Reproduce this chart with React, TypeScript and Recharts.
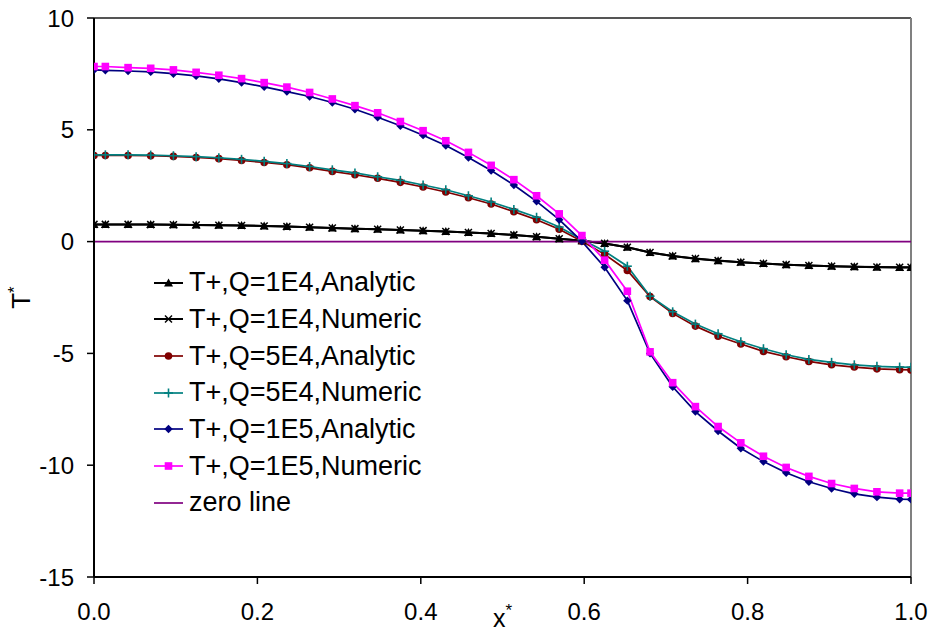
import React from 'react';
import { LineChart, Line, XAxis, YAxis, ReferenceLine, Legend } from 'recharts';

const xStar = [0, 0.0139, 0.0417, 0.0694, 0.0972, 0.125, 0.1528, 0.1806, 0.2083, 0.2361, 0.2639, 0.2917, 0.3194, 0.3472, 0.375, 0.4028, 0.4306, 0.4583, 0.4861, 0.5139, 0.5417, 0.5694, 0.5972, 0.625, 0.6528, 0.6806, 0.7083, 0.7361, 0.7639, 0.7917, 0.8194, 0.8472, 0.875, 0.9028, 0.9306, 0.9583, 0.9861, 1];

const q1e4Analytic = [0.76, 0.76, 0.76, 0.76, 0.75, 0.74, 0.73, 0.72, 0.70, 0.67, 0.64, 0.61, 0.58, 0.55, 0.52, 0.49, 0.45, 0.41, 0.36, 0.30, 0.22, 0.13, 0.04, -0.08, -0.25, -0.49, -0.64, -0.77, -0.86, -0.92, -0.98, -1.03, -1.07, -1.10, -1.13, -1.15, -1.16, -1.16];
const q1e4Numeric = [0.77, 0.77, 0.77, 0.76, 0.75, 0.74, 0.73, 0.72, 0.70, 0.67, 0.64, 0.61, 0.58, 0.55, 0.52, 0.49, 0.45, 0.41, 0.36, 0.30, 0.22, 0.13, 0.04, -0.08, -0.25, -0.49, -0.64, -0.76, -0.85, -0.92, -0.98, -1.03, -1.07, -1.10, -1.12, -1.14, -1.15, -1.15];
const q5e4Analytic = [3.85, 3.85, 3.85, 3.84, 3.81, 3.76, 3.71, 3.63, 3.54, 3.44, 3.30, 3.14, 2.99, 2.83, 2.65, 2.44, 2.22, 1.96, 1.68, 1.34, 0.98, 0.55, 0.02, -0.57, -1.29, -2.46, -3.21, -3.78, -4.23, -4.58, -4.91, -5.15, -5.36, -5.51, -5.61, -5.69, -5.73, -5.74];
const q5e4Numeric = [3.88, 3.88, 3.88, 3.87, 3.84, 3.80, 3.75, 3.68, 3.59, 3.49, 3.36, 3.21, 3.07, 2.90, 2.74, 2.53, 2.32, 2.05, 1.77, 1.44, 1.09, 0.65, 0.09, -0.43, -1.10, -2.44, -3.14, -3.69, -4.12, -4.48, -4.79, -5.06, -5.27, -5.40, -5.51, -5.58, -5.61, -5.62];
const q1e5Analytic = [7.68, 7.66, 7.63, 7.59, 7.51, 7.41, 7.28, 7.11, 6.92, 6.71, 6.49, 6.22, 5.92, 5.56, 5.18, 4.76, 4.30, 3.76, 3.18, 2.53, 1.80, 0.98, 0.01, -1.15, -2.64, -5.00, -6.49, -7.60, -8.47, -9.24, -9.84, -10.34, -10.74, -11.04, -11.28, -11.43, -11.52, -11.53];
const q1e5Numeric = [7.83, 7.83, 7.78, 7.75, 7.68, 7.57, 7.44, 7.29, 7.11, 6.91, 6.67, 6.38, 6.08, 5.76, 5.37, 4.96, 4.51, 3.99, 3.41, 2.77, 2.05, 1.24, 0.27, -0.83, -2.22, -4.93, -6.31, -7.38, -8.27, -9.00, -9.60, -10.10, -10.50, -10.82, -11.04, -11.19, -11.25, -11.25];

const zeroLineX = [0, 1];
const zeroLineY = [0, 0];

const xTicks = [0, 0.2, 0.4, 0.6, 0.8, 1.0];
const yTicks = [-15, -10, -5, 0, 5, 10];

const seriesNames = [
  'T+,Q=1E4,Analytic',
  'T+,Q=1E4,Numeric',
  'T+,Q=5E4,Analytic',
  'T+,Q=5E4,Numeric',
  'T+,Q=1E5,Analytic',
  'T+,Q=1E5,Numeric',
  'zero line',
];

const rows = xStar.map((x, i) => ({
  x,
  a1: q1e4Analytic[i],
  n1: q1e4Numeric[i],
  a5: q5e4Analytic[i],
  n5: q5e4Numeric[i],
  a10: q1e5Analytic[i],
  n10: q1e5Numeric[i],
}));

const zeroRows = zeroLineX.map((x, i) => ({ x, zero: zeroLineY[i] }));

type Shape = 'triangle' | 'cross' | 'circle' | 'plus' | 'diamond' | 'square' | 'none';

const series: { key: string; name: string; color: string; shape: Shape; width: number }[] = [
  { key: 'a1', name: seriesNames[0], color: '#000000', shape: 'triangle', width: 2 },
  { key: 'n1', name: seriesNames[1], color: '#000000', shape: 'cross', width: 2 },
  { key: 'a5', name: seriesNames[2], color: '#800000', shape: 'circle', width: 1.7 },
  { key: 'n5', name: seriesNames[3], color: '#008080', shape: 'plus', width: 1.7 },
  { key: 'a10', name: seriesNames[4], color: '#000080', shape: 'diamond', width: 1.7 },
  { key: 'n10', name: seriesNames[5], color: '#FF00FF', shape: 'square', width: 1.7 },
];

const zeroColor = '#800080';

function Marker({ shape, cx, cy, color }: { shape: Shape; cx: number; cy: number; color: string }) {
  if (cx == null || cy == null || isNaN(cx) || isNaN(cy)) return null;
  switch (shape) {
    case 'triangle':
      return <polygon points={`${cx},${cy - 4.5} ${cx - 4.5},${cy + 3.5} ${cx + 4.5},${cy + 3.5}`} fill={color} />;
    case 'cross':
      return (
        <g stroke={color} strokeWidth={1.5}>
          <line x1={cx - 3.5} y1={cy - 3.5} x2={cx + 3.5} y2={cy + 3.5} />
          <line x1={cx - 3.5} y1={cy + 3.5} x2={cx + 3.5} y2={cy - 3.5} />
        </g>
      );
    case 'circle':
      return <circle cx={cx} cy={cy} r={3.8} fill={color} />;
    case 'plus':
      return (
        <g stroke={color} strokeWidth={1.6}>
          <line x1={cx - 4.5} y1={cy} x2={cx + 4.5} y2={cy} />
          <line x1={cx} y1={cy - 4.5} x2={cx} y2={cy + 4.5} />
        </g>
      );
    case 'diamond':
      return <polygon points={`${cx},${cy - 4.2} ${cx + 4.2},${cy} ${cx},${cy + 4.2} ${cx - 4.2},${cy}`} fill={color} />;
    case 'square':
      return <rect x={cx - 3.8} y={cy - 3.8} width={7.6} height={7.6} fill={color} />;
    default:
      return null;
  }
}

const FONT = '"Liberation Sans", Arial, Helvetica, sans-serif';

function LegendBox() {
  const items = [
    ...series.map((s) => ({ name: s.name, color: s.color, shape: s.shape, width: s.width })),
    { name: seriesNames[6], color: zeroColor, shape: 'none' as Shape, width: 1.7 },
  ];
  return (
    <div style={{ fontFamily: FONT }}>
      {items.map((it) => (
        <div key={it.name} style={{ height: 36.67, display: 'flex', alignItems: 'center' }}>
          <svg width={46} height={20} style={{ flex: 'none' }}>
            <line x1={14} y1={10} x2={43} y2={10} stroke={it.color} strokeWidth={it.width} />
            <Marker shape={it.shape} cx={28.5} cy={10} color={it.color} />
          </svg>
          <span style={{ marginLeft: 3, fontSize: 27, lineHeight: 1, color: '#000', whiteSpace: 'nowrap' }}>{it.name}</span>
        </div>
      ))}
    </div>
  );
}

const YLabel = (props: any) => {
  const vb = props.viewBox || {};
  const cy = (vb.y ?? 18) + (vb.height ?? 559) / 2;
  const x = 30;
  return (
    <text x={x} y={cy} transform={`rotate(-90, ${x}, ${cy})`} textAnchor="middle" fontSize={26} fontFamily={FONT} fill="#000">
      T<tspan fontSize={17} dy={-10}>*</tspan>
    </text>
  );
};

const XLabel = (props: any) => {
  const vb = props.viewBox || {};
  const cx = (vb.x ?? 94) + (vb.width ?? 817) / 2;
  return (
    <text x={cx} y={627} textAnchor="middle" fontSize={25} fontFamily={FONT} fill="#000">
      x<tspan fontSize={17} dy={-11}>*</tspan>
    </text>
  );
};

export default function App() {
  return (
    <div style={{ position: 'absolute', left: 0, top: 0, width: 930, height: 632, background: '#fff', fontFamily: FONT }}>
      <LineChart width={930} height={632} data={rows} margin={{ top: 18, right: 19, left: 0, bottom: 0 }}>
        <XAxis
          dataKey="x"
          type="number"
          domain={[0, 1]}
          ticks={xTicks}
          tickFormatter={(v: number) => v.toFixed(1)}
          height={55}
          tickSize={7}
          tickMargin={19}
          axisLine={{ stroke: '#000', strokeWidth: 2 }}
          tickLine={{ stroke: '#000', strokeWidth: 1.5 }}
          tick={{ fill: '#000', fontSize: 24, fontFamily: FONT }}
          allowDataOverflow
          label={<XLabel />}
        />
        <YAxis
          type="number"
          domain={[-15, 10]}
          ticks={yTicks}
          width={94}
          tickSize={7}
          tickMargin={13}
          axisLine={{ stroke: '#000', strokeWidth: 2 }}
          tickLine={{ stroke: '#000', strokeWidth: 1.5 }}
          tick={{ fill: '#000', fontSize: 24, fontFamily: FONT }}
          allowDataOverflow
          label={<YLabel />}
        />
        <ReferenceLine y={10} stroke="#555555" strokeWidth={2} ifOverflow="extendDomain" />
        <ReferenceLine x={1} stroke="#808080" strokeWidth={2} ifOverflow="extendDomain" />
        {series.map((s) => (
          <Line
            key={s.key}
            type="linear"
            dataKey={s.key}
            name={s.name}
            stroke={s.color}
            strokeWidth={s.width}
            isAnimationActive={false}
            dot={(p: any) => <Marker key={`${s.key}-${p.index}`} shape={s.shape} cx={p.cx} cy={p.cy} color={s.color} />}
            activeDot={false}
          />
        ))}
        <Line
          data={zeroRows}
          type="linear"
          dataKey="zero"
          name={seriesNames[6]}
          stroke={zeroColor}
          strokeWidth={1.6}
          dot={false}
          activeDot={false}
          isAnimationActive={false}
        />
        <Legend
          layout="vertical"
          align="center"
          verticalAlign="middle"
          wrapperStyle={{ left: 140, top: 264.5, width: 330, height: 257 }}
          content={() => <LegendBox />}
        />
      </LineChart>
    </div>
  );
}
